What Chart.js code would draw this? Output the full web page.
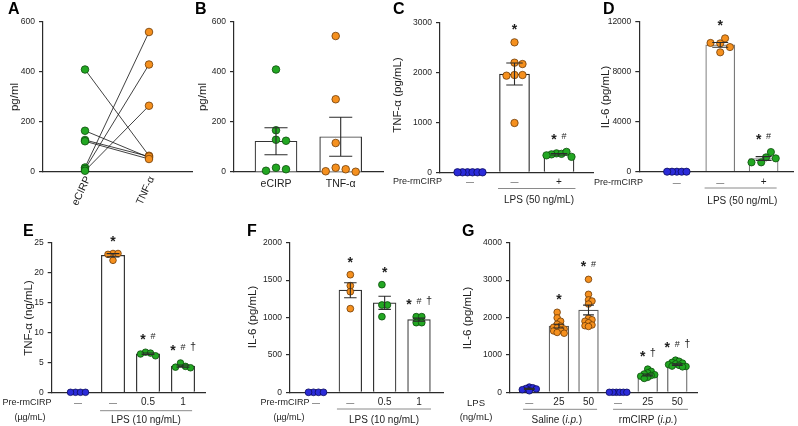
<!DOCTYPE html>
<html><head><meta charset="utf-8">
<script src="https://cdn.jsdelivr.net/npm/chart.js@4/dist/chart.umd.min.js"></script>
<style>
html,body{margin:0;padding:0;background:#fff;}
body{width:798px;height:426px;position:relative;overflow:hidden;}
canvas{position:absolute;left:0;top:0;}
</style></head>
<body>
<script>
// ---------- DATA ----------
// Panel A (paired values)
const aCategories = ['eCIRP', 'TNF-α'];
const aECIRP = [410, 165, 128, 123, 18, 12, 5];
const aTNF   = [65, 58, 62, 52, 560, 430, 265];
const aTicks = [0, 200, 400, 600];

// Panel B
const bCategories = ['eCIRP', 'TNF-α'];
const bECIRP = [410, 167, 129, 125, 17, 11, 5];
const bTNF   = [544, 291, 116, 17, 11, 3, 1];
const bMean  = [123, 141];
const bSEM   = [54, 78];
const bTicks = [0, 200, 400, 600];

// Panel C  TNF-α (pg/mL)
const cLabels  = ['—', '—', '+'];
const cControl = [0, 0, 0, 0, 0, 0];
const cLPS     = [2606, 2198, 2171, 1951, 1951, 1938, 989];
const cPreLPS  = [380, 370, 360, 410, 340, 310];
const cMean    = [0, 1971, 362];
const cSEM     = [0, 220, 15];
const cTicks   = [0, 1000, 2000, 3000];
const cMarks   = [[], ['*'], ['*', '#']];

// Panel D  IL-6 (pg/mL)
const dLabels  = ['—', '—', '+'];
const dControl = [0, 0, 0, 0, 0];
const dLPS     = [10270, 10670, 9970, 10300, 9550];
const dPreLPS  = [1147, 1067, 1573, 747, 747];
const dMean    = [0, 10150, 1056];
const dSEM     = [0, 190, 150];
const dTicks   = [0, 4000, 8000, 12000];
const dMarks   = [[], ['*'], ['*', '#']];

// Panel E  TNF-α (ng/mL)
const eLabels  = ['—', '—', '0.5', '1'];
const eControl = [0, 0, 0, 0];
const eLPS     = [23.2, 23.2, 23.05, 22.05];
const ePre05   = [6.7, 6.55, 6.4, 6.1];
const ePre1    = [4.9, 4.33, 4.2, 4.1];
const eMean    = [0, 22.9, 6.44, 4.38];
const eSEM     = [0, 0.27, 0.13, 0.18];
const eTicks   = [0, 5, 10, 15, 20, 25];
const eMarks   = [[], ['*'], ['*', '#'], ['*', '#', '†']];

// Panel F  IL-6 (pg/mL)
const fLabels  = ['—', '—', '0.5', '1'];
const fControl = [0, 0, 0, 0];
const fLPS     = [1572, 1425, 1345, 1118];
const fPre05   = [1439, 1167, 1167, 1011];
const fPre1    = [1011, 1011, 931, 931];
const fMean    = [0, 1365, 1196, 971];
const fSEM     = [0, 100, 88, 20];
const fTicks   = [0, 500, 1000, 1500, 2000];
const fMarks   = [[], ['*'], ['*'], ['*', '#', '†']];

// Panel G  IL-6 (pg/mL), in vivo
const gLabels = ['—', '25', '50', '—', '25', '50'];
const gSal0   = [140, 120, 100, 90, 70, 40];
const gSal25  = [2140, 1990, 1900, 1820, 1770, 1740, 1720, 1690, 1660, 1640, 1600, 1580];
const gSal50  = [3020, 2620, 2470, 2440, 2360, 1980, 1940, 1900, 1860, 1800, 1780, 1760];
const gRm0    = [0, 0, 0, 0, 0, 0];
const gRm25   = [620, 560, 520, 490, 470, 450, 430, 400, 370];
const gRm50   = [860, 830, 800, 780, 760, 740, 720, 700, 690, 680];
const gMean   = [90, 1770, 2200, 0, 465, 740];
const gSEM    = [15, 50, 130, 0, 25, 20];
const gTicks  = [0, 1000, 2000, 3000, 4000];
const gMarks  = [[], ['*'], ['*', '#'], [], ['*', '†'], ['*', '#', '†']];

// ---------- STYLE ----------
const FONT = "'Liberation Sans', Arial, Helvetica, sans-serif";
const INK = '#1e1e1e';
const AXIS = '#2b2b2b';
const COL = {
  blue:   { fill: '#2b2bd9', edge: '#0c0c5c' },
  orange: { fill: '#f5901e', edge: '#6e3b06' },
  green:  { fill: '#22a722', edge: '#0c4c0c' }
};
Chart.defaults.font.family = FONT;
const YW = 40, XH = 2;

function swarm(vals, ci, unitPx, pxPerY, step, minDist) {
  const placed = [];
  for (const v of vals) {
    const py = v * pxPerY;
    let off = 0;
    for (let n = 0; n < 80; n++) {
      off = n === 0 ? 0 : (n % 2 ? 1 : -1) * Math.ceil(n / 2) * step;
      if (placed.every(p => Math.hypot(p.o - off, p.py - py) >= minDist - 1e-6)) break;
    }
    placed.push({ o: off, py, v });
  }
  const lo = Math.min(...placed.map(p => p.o)), hi = Math.max(...placed.map(p => p.o));
  const sh = (lo + hi) / 2;
  return placed.map(p => ({ x: ci + (p.o - sh) / unitPx, y: p.v }));
}

const SYM = { '*': { size: 14, bold: true, k: 0.58 }, '#': { size: 9, bold: false, k: 0.36 }, '†': { size: 11, bold: false, k: 0.3 } };
function drawMarks(ctx, syms, cx, cy) {
  const gap = 10, n = syms.length;
  syms.forEach((s, j) => {
    const m = SYM[s];
    ctx.font = (m.bold ? 'bold ' : '') + m.size + 'px ' + FONT;
    ctx.textAlign = 'center'; ctx.textBaseline = 'alphabetic';
    ctx.fillStyle = INK;
    ctx.fillText(s, cx + (j - (n - 1) / 2) * gap, cy + m.k * m.size);
  });
}
function drawRich(ctx, segs, cx, cy, size) {
  let total = 0;
  segs.forEach(s => { ctx.font = (s.italic ? 'italic ' : '') + size + 'px ' + FONT; s.w = ctx.measureText(s.t).width; total += s.w; });
  let x = cx - total / 2;
  ctx.textAlign = 'left'; ctx.textBaseline = 'middle'; ctx.fillStyle = INK;
  segs.forEach(s => { ctx.font = (s.italic ? 'italic ' : '') + size + 'px ' + FONT; ctx.fillText(s.t, x, cy); x += s.w; });
}

function makePanel(P) {
  const { rect } = P;
  const xmin = (rect.l - P.c0) / P.unit, xmax = (rect.r - P.c0) / P.unit;
  const pxPerY = (rect.b - rect.t) / P.ymax;
  const datasets = [];
  if (P.mean) {
    datasets.push({
      type: 'bar', order: 3,
      data: P.mean.map((m, i) => ({ x: i, y: m })).filter(d => d.y > 0),
      backgroundColor: '#ffffff', borderColor: P.barBorder || AXIS, borderWidth: 1.2,
      barThickness: P.barW, borderSkipped: 'bottom'
    });
  }
  (P.pairs || []).forEach(pr => {
    datasets.push({
      type: 'line', order: 2, data: [{ x: 0, y: pr[0] }, { x: 1, y: pr[1] }],
      borderColor: '#111', borderWidth: 0.8, pointRadius: 0, clip: false, fill: false
    });
  });
  P.groups.forEach((g, i) => {
    const pts = P.noSwarm ? g.vals.map(v => ({ x: i, y: v }))
      : swarm(g.vals, i, P.unit, pxPerY, g.step || P.step, g.minDist || P.minDist);
    datasets.push({
      type: 'scatter', order: 1, data: pts,
      pointRadius: P.r, pointBackgroundColor: COL[g.color].fill, pointBorderColor: COL[g.color].edge,
      pointBorderWidth: 0.8, clip: false
    });
  });

  const plugin = {
    id: 'panelText' + P.letter,
    afterDraw(chart) {
      const ctx = chart.ctx, xs = chart.scales.x, ys = chart.scales.y;
      ctx.save();
      if (P.sem) {
        ctx.strokeStyle = AXIS; ctx.lineWidth = 1.1;
        P.sem.forEach((s, i) => {
          if (!s) return;
          const x = xs.getPixelForValue(i);
          const y1 = ys.getPixelForValue(P.mean[i] + s), y2 = ys.getPixelForValue(P.mean[i] - s);
          const cw = P.barW * 0.55 / 2;
          ctx.beginPath();
          ctx.moveTo(x, y1); ctx.lineTo(x, y2);
          ctx.moveTo(x - cw, y1); ctx.lineTo(x + cw, y1);
          ctx.moveTo(x - cw, y2); ctx.lineTo(x + cw, y2);
          ctx.stroke();
        });
      }
      (P.marks || []).forEach((ms, i) => {
        if (!ms.length) return;
        const top = Math.max(Math.max(...P.groups[i].vals), P.mean[i] + P.sem[i]);
        drawMarks(ctx, ms, xs.getPixelForValue(i), ys.getPixelForValue(top) - 16);
      });
      ctx.fillStyle = INK;
      (P.xlabels || []).forEach((t, i) => {
        const x = xs.getPixelForValue(i);
        if (P.rotLabels) {
          ctx.save();
          ctx.font = '10.5px ' + FONT;
          ctx.translate(x + 3, rect.b + 5);
          ctx.rotate(-65 * Math.PI / 180);
          ctx.textAlign = 'right'; ctx.textBaseline = 'middle';
          ctx.fillText(t, 0, 0);
          ctx.restore();
        } else {
          ctx.font = (t === '—' ? 8 : P.xlabelSize || 10) + 'px ' + FONT;
          ctx.textAlign = 'center'; ctx.textBaseline = 'middle';
          ctx.fillText(t, x, P.xlabelY);
        }
      });
      ctx.strokeStyle = '#8a8a8a'; ctx.lineWidth = 1;
      (P.lines || []).forEach(l => {
        ctx.beginPath();
        ctx.moveTo(xs.getPixelForValue(l.x1), l.y); ctx.lineTo(xs.getPixelForValue(l.x2), l.y);
        ctx.stroke();
      });
      (P.texts || []).forEach(t => {
        const x = t.xv !== undefined ? xs.getPixelForValue(t.xv) : t.x;
        if (t.segs) { drawRich(ctx, t.segs, x, t.y, t.size || 10); return; }
        ctx.font = (t.size || 10) + 'px ' + FONT; ctx.fillStyle = INK;
        ctx.textAlign = t.align || 'center'; ctx.textBaseline = 'middle';
        ctx.fillText(t.t, x, t.y);
      });
      ctx.save();
      ctx.translate(P.titleX, P.titleY); ctx.rotate(-Math.PI / 2);
      ctx.font = '11.5px ' + FONT; ctx.fillStyle = INK;
      ctx.textAlign = 'center'; ctx.textBaseline = 'middle';
      ctx.fillText(P.title, 0, 0);
      ctx.restore();
      ctx.font = 'bold 16px ' + FONT; ctx.fillStyle = '#000';
      ctx.textAlign = 'left'; ctx.textBaseline = 'alphabetic';
      ctx.fillText(P.letter, P.letterX, P.letterY);
      ctx.restore();
    }
  };

  const cv = document.createElement('canvas');
  cv.width = 798; cv.height = 426;
  document.body.appendChild(cv);
  new Chart(cv, {
    type: 'bar',
    data: { datasets },
    options: {
      responsive: false, animation: false, devicePixelRatio: 1,
      events: [],
      layout: { padding: { left: rect.l - YW, top: rect.t, right: 798 - rect.r, bottom: 426 - rect.b - XH } },
      plugins: { legend: { display: false }, tooltip: { enabled: false } },
      scales: {
        x: {
          type: 'linear', min: xmin, max: xmax, offset: false,
          grid: { display: false }, ticks: { display: false },
          border: { display: true, color: AXIS, width: 1.2 },
          afterFit: s => { s.height = XH; }
        },
        y: {
          type: 'linear', min: 0, max: P.ymax,
          grid: { display: true, drawOnChartArea: false, drawTicks: true, tickLength: 4, color: AXIS, lineWidth: 1.2 },
          border: { display: true, color: AXIS, width: 1.2 },
          ticks: { font: { family: FONT, size: 8.5 }, color: INK, padding: 4, callback: v => String(v) },
          afterBuildTicks: s => { s.ticks = P.yticks.map(v => ({ value: v })); },
          afterFit: s => { s.width = YW; }
        }
      }
    },
    plugins: [plugin]
  });
}

// ---------- PANELS ----------
makePanel({
  letter: 'A', letterX: 8, letterY: 14,
  rect: { l: 43, t: 22, r: 192, b: 172 }, c0: 85, unit: 64,
  ymax: 600, yticks: aTicks, noSwarm: true, r: 3.8,
  pairs: aECIRP.map((v, i) => [v, aTNF[i]]),
  groups: [{ vals: aECIRP, color: 'green' }, { vals: aTNF, color: 'orange' }],
  xlabels: aCategories, rotLabels: true,
  title: 'pg/ml', titleX: 15, titleY: 97
});
makePanel({
  letter: 'B', letterX: 195, letterY: 14,
  rect: { l: 234, t: 22, r: 383, b: 172 }, c0: 276, unit: 64.7,
  ymax: 600, yticks: bTicks, r: 3.8, step: 10, minDist: 9,
  mean: bMean, sem: bSEM, barW: 42, barBorder: '#333',
  groups: [{ vals: bECIRP, color: 'green' }, { vals: bTNF, color: 'orange' }],
  xlabels: bCategories, xlabelY: 184, xlabelSize: 10.5,
  title: 'pg/ml', titleX: 203, titleY: 97
});
makePanel({
  letter: 'C', letterX: 393, letterY: 14,
  rect: { l: 440, t: 22.7, r: 593, b: 172.3 }, c0: 470, unit: 44.5,
  ymax: 3000, yticks: cTicks, r: 3.7, step: 5, minDist: 5,
  mean: cMean, sem: cSEM, barW: 30, barBorder: '#222', marks: cMarks,
  groups: [{ vals: cControl, color: 'blue' }, { vals: cLPS, color: 'orange', step: 8, minDist: 7 }, { vals: cPreLPS, color: 'green' }],
  xlabels: cLabels, xlabelY: 182,
  lines: [{ x1: 0.63, x2: 2.37, y: 188.5 }],
  texts: [{ t: 'Pre-rmCIRP', x: 442, y: 182, align: 'right', size: 9 }, { t: 'LPS (50 ng/mL)', xv: 1.55, y: 200 }],
  title: 'TNF-α (pg/mL)', titleX: 398, titleY: 95
});
makePanel({
  letter: 'D', letterX: 603, letterY: 14,
  rect: { l: 639.3, t: 21.7, r: 798, b: 171.7 }, c0: 678, unit: 44.75,
  ymax: 12000, yticks: dTicks, r: 3.6, step: 5, minDist: 5,
  mean: dMean, sem: dSEM, barW: 29, barBorder: '#7a7a7a', marks: dMarks,
  groups: [{ vals: dControl, color: 'blue' }, { vals: dLPS, color: 'orange', minDist: 7 }, { vals: dPreLPS, color: 'green', minDist: 7 }],
  xlabels: dLabels, xlabelY: 182.5,
  lines: [{ x1: 0.64, x2: 2.3, y: 188 }],
  texts: [{ t: 'Pre-rmCIRP', x: 643, y: 182.5, align: 'right', size: 9 }, { t: 'LPS (50 ng/mL)', xv: 1.51, y: 201 }],
  title: 'IL-6 (pg/mL)', titleX: 606, titleY: 97
});
makePanel({
  letter: 'E', letterX: 23, letterY: 236,
  rect: { l: 51.7, t: 242.7, r: 205.7, b: 392.3 }, c0: 78, unit: 35,
  ymax: 25, yticks: eTicks, r: 3.3, step: 5, minDist: 5,
  mean: eMean, sem: eSEM, barW: 23.3, barBorder: '#333', marks: eMarks,
  groups: [{ vals: eControl, color: 'blue' }, { vals: eLPS, color: 'orange' }, { vals: ePre05, color: 'green' }, { vals: ePre1, color: 'green' }],
  xlabels: eLabels, xlabelY: 402.5,
  lines: [{ x1: 0.63, x2: 3.26, y: 410.7 }],
  texts: [{ t: 'Pre-rmCIRP', x: 27, y: 403, size: 9 }, { t: '(µg/mL)', x: 30, y: 417.5, size: 9 }, { t: 'LPS (10 ng/mL)', xv: 1.94, y: 420 }],
  title: 'TNF-α (ng/mL)', titleX: 29, titleY: 318
});
makePanel({
  letter: 'F', letterX: 247, letterY: 236,
  rect: { l: 290, t: 242.7, r: 443, b: 392.3 }, c0: 316, unit: 34.33,
  ymax: 2000, yticks: fTicks, r: 3.4, step: 5.5, minDist: 5.5,
  mean: fMean, sem: fSEM, barW: 22.7, barBorder: '#333', marks: fMarks,
  groups: [{ vals: fControl, color: 'blue', step: 5, minDist: 5 }, { vals: fLPS, color: 'orange' }, { vals: fPre05, color: 'green' }, { vals: fPre1, color: 'green' }],
  xlabels: fLabels, xlabelY: 402.5,
  lines: [{ x1: 0.61, x2: 3.35, y: 409 }],
  texts: [{ t: 'Pre-rmCIRP', x: 285, y: 403, size: 9 }, { t: '(µg/mL)', x: 289, y: 417.5, size: 9 }, { t: 'LPS (10 ng/mL)', xv: 1.98, y: 420 }],
  title: 'IL-6 (pg/mL)', titleX: 252.7, titleY: 317
});
makePanel({
  letter: 'G', letterX: 462, letterY: 236,
  rect: { l: 510, t: 242.7, r: 697.3, b: 392.3 }, c0: 529.3, unit: 29.6,
  ymax: 4000, yticks: gTicks, r: 3.3, step: 3.5, minDist: 3.5,
  mean: gMean, sem: gSEM, barW: 19.7, barBorder: '#5a5a5a', marks: gMarks,
  groups: [{ vals: gSal0, color: 'blue' }, { vals: gSal25, color: 'orange' }, { vals: gSal50, color: 'orange' },
           { vals: gRm0, color: 'blue' }, { vals: gRm25, color: 'green' }, { vals: gRm50, color: 'green' }],
  xlabels: gLabels, xlabelY: 402.5,
  lines: [{ x1: -0.21, x2: 2.29, y: 409.3 }, { x1: 2.83, x2: 5.36, y: 409.3 }],
  texts: [{ t: 'LPS', x: 476, y: 403, size: 9.5 }, { t: '(ng/mL)', x: 476, y: 417.5, size: 9.5 },
          { segs: [{ t: 'Saline (' }, { t: 'i.p.', italic: true }, { t: ')' }], xv: 0.93, y: 420 },
          { segs: [{ t: 'rmCIRP (' }, { t: 'i.p.', italic: true }, { t: ')' }], xv: 4.01, y: 420 }],
  title: 'IL-6 (pg/mL)', titleX: 468.3, titleY: 318
});
</script>
</body></html>
